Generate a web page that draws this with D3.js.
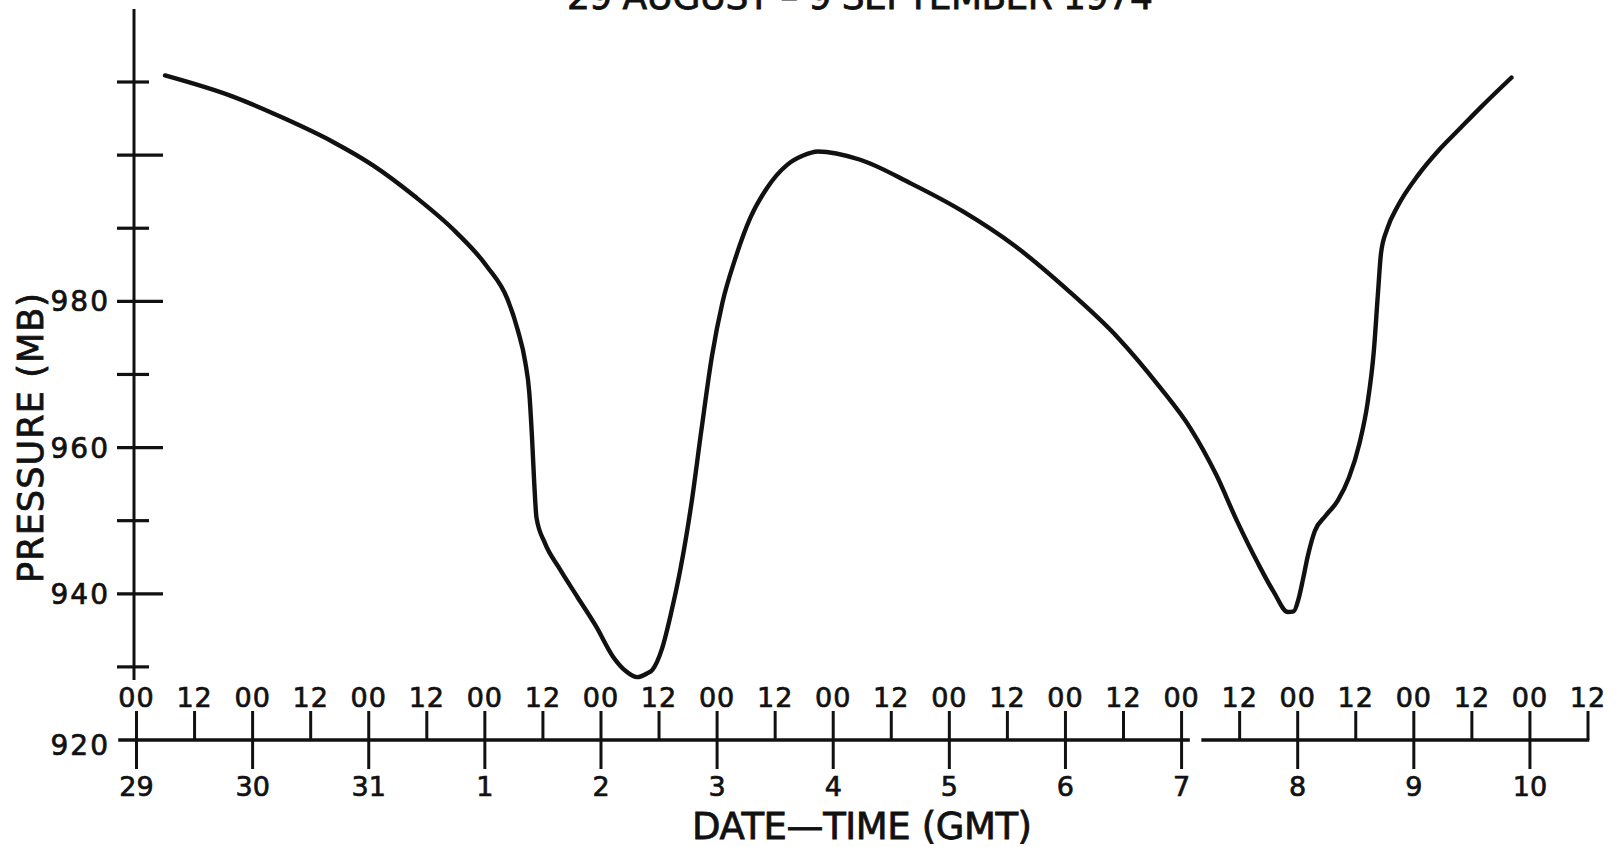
<!DOCTYPE html>
<html><head><meta charset="utf-8">
<script src="https://cdn.jsdelivr.net/npm/d3@7"></script>
<style>
html,body{margin:0;padding:0;background:#fff;}
svg{display:block;}
text{font-family:"DejaVu Sans",sans-serif;fill:#111;}
</style>
</head><body>
<svg id="chart" width="1621" height="847"></svg>
<script>
// ---- data (time in days since 29 Aug 00 GMT) ----
const timeDays = [0.25,0.835,1.266,1.697,2.041,2.397,2.754,3.021,3.199,3.289,3.351,3.387,3.41,3.43,3.449,3.52,3.645,3.80,3.96,4.108,4.22,4.315,4.40,4.447,4.53,4.61,4.69,4.78,4.87,4.96,5.05,5.16,5.29,5.43,5.61,5.74,5.873,6.230,6.676,7.121,7.567,8.012,8.458,8.815,9.082,9.305,9.483,9.661,9.80,9.92,9.97,10.01,10.05,10.089,10.152,10.241,10.348,10.446,10.535,10.606,10.660,10.695,10.722,10.775,10.865,11.043,11.221,11.399,11.578,11.845];
const pressureMb = [1010.9,1008.0,1005.1,1001.8,998.6,994.4,989.5,984.8,980.3,976.0,971.8,967.5,961.5,955.0,950.4,947.0,943.5,939.6,935.6,931.4,929.4,928.6,929.1,929.6,932.5,937.5,943.5,952.0,962.5,972.5,979.8,985.8,991.4,995.4,998.7,999.9,1000.5,999.4,996.1,992.3,987.6,981.7,975.0,968.3,962.6,956.2,949.9,944.2,940.2,937.5,937.6,939.2,942.0,945.0,948.6,950.6,952.7,955.9,960.5,966.1,973.2,981.0,986.6,989.9,993.0,997.3,1000.7,1003.6,1006.5,1010.6];

const dayLabels = ["29","30","31","1","2","3","4","5","6","7","8","9","10"];
const hourLabels = ["00","12"];
const pressureTicks = [930,940,950,960,970,980,990,1000,1010];
const pressureLabelTicks = [920,940,960,980];
const titleText = "29 AUGUST – 9 SEPTEMBER 1974";
const xTitleText = "DATE—TIME (GMT)";
const yTitleText = "PRESSURE (MB)";

// ---- layout ----
const svg = d3.select("#chart");
const x = d3.scaleLinear().domain([0, 12.5]).range([136, 1587.5]);
const y = d3.scaleLinear().domain([920, 1010]).range([740, 82]);
const axisY = y(920);
const ink = "#111";

function boldish(sel, w) {
  sel.attr("stroke", ink).attr("stroke-width", w).attr("paint-order", "stroke");
}

// hour ticks (up) with 00 / 12 labels
const hourAxis = d3.axisTop(x)
  .tickValues(d3.range(0, 12.51, 0.5))
  .tickSize(29).tickPadding(4)
  .tickFormat(d => hourLabels[Math.round(d * 2) % 2]);
const gH = svg.append("g").attr("transform", `translate(0,${axisY})`).call(hourAxis);
gH.select(".domain").remove();
gH.selectAll("line").attr("stroke", ink).attr("stroke-width", 3);
gH.selectAll("text").attr("font-size", 27).attr("font-family", "DejaVu Sans").attr("fill", ink).attr("letter-spacing", 1).call(boldish, 0.7);

// day ticks (down) with date labels
const dayAxis = d3.axisBottom(x)
  .tickValues(d3.range(0, 13))
  .tickSize(29).tickPadding(8)
  .tickFormat((d, i) => dayLabels[i]);
const gD = svg.append("g").attr("transform", `translate(0,${axisY})`).call(dayAxis);
gD.select(".domain").remove();
gD.selectAll("line").attr("stroke", ink).attr("stroke-width", 3);
gD.selectAll("text").attr("font-size", 27).attr("font-family", "DejaVu Sans").attr("fill", ink).call(boldish, 0.7);

// broken baseline
const segs = [[x(0) - 16, x(9.06)], [x(9.19), x(12.5)]];
svg.selectAll("line.base").data(segs).enter().append("line")
  .attr("x1", d => d[0]).attr("x2", d => d[1])
  .attr("y1", axisY).attr("y2", axisY)
  .attr("stroke", ink).attr("stroke-width", 3.6).attr("stroke-linecap", "square");

// y axis line
const yAxisX = 134;
svg.append("line").attr("x1", yAxisX).attr("x2", yAxisX)
  .attr("y1", 9).attr("y2", y(928.2))
  .attr("stroke", ink).attr("stroke-width", 3);

// y cross ticks
svg.selectAll("line.yt").data(pressureTicks).enter().append("line")
  .attr("x1", 117).attr("x2", d => d % 20 === 0 ? 163 : 149)
  .attr("y1", d => y(d)).attr("y2", d => y(d))
  .attr("stroke", ink).attr("stroke-width", 3.2);

// y labels
svg.selectAll("text.yl").data(pressureLabelTicks).enter().append("text")
  .attr("x", 110).attr("y", d => y(d) + (d === 920 ? 15 : 10))
  .attr("text-anchor", "end").attr("font-size", 28).attr("letter-spacing", 2)
  .call(boldish, 0.7)
  .text(d => d);

// pressure curve
const pts = timeDays.map((t, i) => [t, pressureMb[i]]);
const line = d3.line().x(d => x(d[0])).y(d => y(d[1])).curve(d3.curveMonotoneX);
svg.append("path").attr("d", line(pts))
  .attr("fill", "none").attr("stroke", ink).attr("stroke-width", 4.4)
  .attr("stroke-linecap", "round").attr("stroke-linejoin", "round");

// titles
svg.append("text").attr("x", 860).attr("y", 9).attr("text-anchor", "middle")
  .attr("font-size", 36).attr("textLength", 586).attr("lengthAdjust", "spacing")
  .call(boldish, 0.8)
  .text(titleText);
svg.append("text").attr("x", 862).attr("y", 839).attr("text-anchor", "middle")
  .attr("font-size", 37).attr("textLength", 340).attr("lengthAdjust", "spacing")
  .call(boldish, 0.8)
  .text(xTitleText);
svg.append("text").attr("transform", "translate(43,438) rotate(-90)")
  .attr("text-anchor", "middle").attr("font-size", 35)
  .attr("textLength", 290).attr("lengthAdjust", "spacing")
  .call(boldish, 0.8)
  .text(yTitleText);
</script>
</body></html>
